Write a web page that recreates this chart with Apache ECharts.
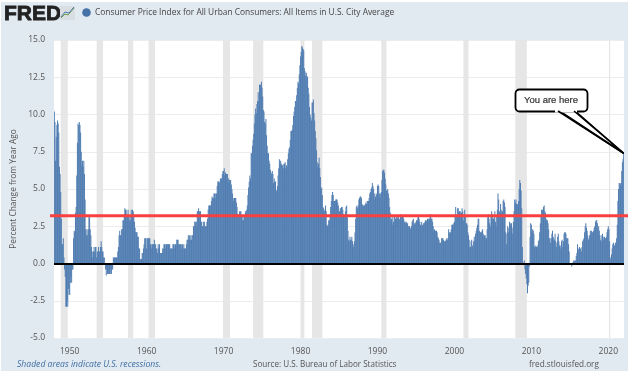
<!DOCTYPE html>
<html><head><meta charset="utf-8">
<script src="https://cdn.jsdelivr.net/npm/echarts@6/dist/echarts.min.js"></script>
<style>html,body{margin:0;padding:0;background:#fff}#c{position:absolute;left:1px;top:2px;width:627px;height:369px}</style>
</head><body><div id="c"></div>
<script>
const cpi1940s=[10.2,9.5,6.9,8.5,9.3,9.6,9.4,8.8,6.5,6.0,4.8,3.0, 1.3,1.3,1.7,0.4,-0.4,-0.9,-2.9,-2.9,-2.5,-2.9,-1.7,-2.1];
const cpi1950s=[-2.1,-1.3,-0.9,-1.3,-0.4,-0.4,1.7,2.2,2.1,3.4,3.8,5.9, 8.1,9.4,9.3,9.5,9.3,8.8,7.5,6.6,6.9,6.5,6.9,6.0, 4.3,2.3,1.9,2.3,1.9,2.3,3.1,3.1,2.3,1.9,1.1,0.8, 0.4,0.8,1.1,0.8,1.1,1.1,0.4,0.8,0.8,1.1,0.8,0.8, 1.1,1.5,1.1,0.8,0.8,0.4,0.4,0,-0.4,-0.8,-0.4,-0.7, -0.7,-0.7,-0.7,-0.4,-0.7,-0.7,-0.4,-0.4,0.4,0.4,0.4,0.4, 0.4,0.4,0.4,0.8,1.1,1.9,2.2,1.9,1.9,2.3,2.3,2.9, 2.9,3.3,3.7,3.6,3.6,3.3,3.2,3.6,3.2,2.9,3.2,2.9, 3.6,3.2,3.6,3.5,3.2,2.8,2.4,2.1,2.1,2.1,1.8,1.8, 1.0,1.0,0.3,0.3,0.3,0.7,0.7,1.0,1.3,1.7,1.7,1.7];
const cpi1960s=[1.0,1.7,1.7,1.7,1.7,1.7,1.3,1.3,1.0,1.3,1.3,1.3, 1.6,1.3,1.3,1.0,1.0,0.7,1.3,1.0,1.3,0.7,0.7,0.7, 0.7,1.0,1.0,1.3,1.3,1.3,1.0,1.3,1.3,1.3,1.3,1.3, 1.3,1.0,1.0,1.0,1.0,1.3,1.3,1.3,1.0,1.3,1.3,1.6, 1.6,1.6,1.3,1.3,1.3,1.3,1.3,1.0,1.3,1.0,1.3,1.0, 1.0,1.0,1.3,1.6,1.6,1.9,1.6,1.9,1.6,1.9,1.6,1.9, 1.9,2.5,2.5,2.8,2.8,2.5,2.8,3.5,3.5,3.7,3.5,3.5, 3.5,2.8,2.8,2.5,2.5,2.8,2.8,2.5,2.5,2.5,2.8,3.0, 3.6,3.9,3.9,3.9,3.9,4.2,4.5,4.4,4.4,4.7,4.7,4.7, 4.4,4.7,5.2,5.5,5.5,5.5,5.4,5.7,5.7,5.7,6.0,6.2];
const cpi1970s=[6.2,6.4,5.9,6.1,6.0,6.0,6.0,5.4,5.7,5.6,5.6,5.6, 5.3,5.0,4.7,4.2,4.4,4.4,4.4,4.4,4.1,3.8,3.3,3.3, 3.3,3.5,3.5,3.5,3.2,2.9,3.2,2.9,3.2,3.2,3.5,3.4, 3.6,3.9,4.6,5.1,5.5,5.9,5.7,7.4,7.4,7.9,8.3,8.7, 9.4,10.0,10.4,10.1,10.7,10.9,11.5,10.9,12.0,12.0,12.0,12.2, 11.8,11.2,10.3,10.2,9.5,9.4,9.7,8.6,7.9,7.4,7.4,6.9, 6.7,6.3,6.1,6.0,6.2,6.0,5.4,5.7,5.5,5.5,4.9,4.9, 5.2,5.9,6.4,7.0,6.7,6.9,6.7,6.6,6.6,6.4,6.7,6.7, 6.8,6.4,6.6,6.5,7.0,7.4,7.7,7.8,8.3,8.9,8.9,9.0, 9.3,9.9,10.2,10.5,10.9,10.9,11.3,11.8,12.2,12.1,12.7,13.3];
const cpi1980s=[13.9,14.2,14.6,14.5,14.4,14.3,13.1,12.9,12.6,12.8,12.6,12.5, 11.8,11.4,10.5,10.0,9.8,9.6,10.8,10.8,11.0,10.1,9.6,8.9, 8.4,7.6,6.8,6.5,6.7,7.1,6.4,5.8,5.0,5.1,4.6,3.8, 3.7,3.5,3.6,3.9,3.5,2.6,2.5,2.6,2.9,2.9,3.3,3.8, 4.2,4.6,4.8,4.6,4.2,4.2,4.2,4.3,4.3,4.3,4.1,3.9, 3.5,3.5,3.7,3.7,3.8,3.8,3.6,3.3,3.1,3.2,3.5,3.8, 3.9,3.1,2.2,1.6,1.5,1.8,1.6,1.6,1.8,1.5,1.3,1.1, 1.5,2.1,3.0,3.8,3.9,3.7,3.9,4.3,4.4,4.5,4.5,4.4, 4.0,3.9,3.9,3.9,3.9,4.0,4.1,4.0,4.2,4.2,4.2,4.4, 4.7,4.8,5.0,5.1,5.4,5.2,5.0,4.7,4.3,4.5,4.7,4.6];
const cpi1990s=[5.2,5.3,5.2,4.7,4.4,4.7,4.8,5.6,6.2,6.3,6.3,6.1, 5.7,5.3,4.9,4.9,5.0,4.7,4.4,3.8,3.4,2.9,3.0,3.1, 2.6,2.8,3.2,3.2,3.0,3.0,3.2,3.1,3.0,3.2,3.0,2.9, 3.3,3.2,3.1,3.2,3.2,3.0,2.8,2.8,2.7,2.8,2.7,2.7, 2.5,2.5,2.5,2.4,2.3,2.5,2.8,2.9,3.0,2.6,2.7,2.7, 2.8,2.9,2.9,3.1,3.2,3.0,2.8,2.6,2.5,2.8,2.6,2.5, 2.7,2.7,2.8,2.9,2.9,2.8,3.0,2.9,3.0,3.0,3.3,3.3, 3.0,3.0,2.8,2.5,2.2,2.3,2.2,2.2,2.2,2.1,1.8,1.7, 1.6,1.4,1.4,1.4,1.7,1.7,1.7,1.6,1.5,1.5,1.5,1.6, 1.7,1.6,1.7,2.3,2.1,2.0,2.1,2.3,2.6,2.6,2.6,2.7];
const cpi2000s=[2.8,3.2,3.8,3.1,3.2,3.7,3.7,3.4,3.5,3.5,3.4,3.4, 3.7,3.5,2.9,3.3,3.6,3.2,2.7,2.7,2.6,2.1,1.9,1.6, 1.1,1.1,1.5,1.6,1.2,1.1,1.5,1.8,1.5,2.0,2.2,2.4, 2.6,3.0,3.0,2.2,2.1,2.1,2.1,2.2,2.3,2.0,1.8,1.9, 1.9,1.7,1.7,2.3,3.1,3.3,3.0,2.7,2.5,3.2,3.5,3.3, 3.0,3.0,3.1,3.5,2.8,2.5,3.2,3.6,4.7,4.3,3.5,3.4, 4.0,3.6,3.4,3.5,4.2,4.3,4.1,3.8,2.1,1.3,2.0,2.5, 2.1,2.4,2.8,2.6,2.7,2.7,2.4,2.0,2.8,3.5,4.3,4.1, 4.3,4.0,4.0,3.9,4.2,5.0,5.6,5.4,4.9,3.7,1.1,0.1, 0.0,0.2,-0.4,-0.7,-1.0,-1.4,-2.0,-1.5,-1.3,-0.2,1.8,2.7];
const cpi2010s=[2.6,2.1,2.3,2.2,2.0,1.1,1.2,1.1,1.1,1.2,1.1,1.5, 1.6,2.1,2.7,3.2,3.6,3.6,3.6,3.8,3.9,3.5,3.4,3.0, 2.9,2.9,2.7,2.3,1.7,1.7,1.4,1.7,2.0,2.2,1.8,1.7, 1.6,2.0,1.5,1.1,1.4,1.8,2.0,1.5,1.2,1.0,1.2,1.5, 1.6,1.1,1.5,2.0,2.1,2.1,2.0,1.7,1.7,1.7,1.3,0.8, -0.1,0.0,-0.1,-0.2,0.0,0.1,0.2,0.2,0.0,0.2,0.5,0.7, 1.3,1.0,0.9,1.1,1.0,1.0,0.8,1.1,1.5,1.6,1.7,2.1, 2.5,2.7,2.4,2.2,1.9,1.6,1.7,1.9,2.2,2.0,2.2,2.1, 2.1,2.2,2.4,2.5,2.8,2.9,2.9,2.7,2.3,2.5,2.2,1.9, 1.6,1.5,1.9,2.0,1.8,1.6,1.8,1.7,1.7,1.8,2.1,2.3];
const cpi2020s=[2.5,2.3,1.5,0.4,0.2,0.6,1.0,1.3,1.4,1.2,1.2,1.4, 1.4,1.7,2.6,4.2,5.0,5.4,5.4,5.3,5.4,6.2,6.8,7.0, 7.4];
const recessionStarts=['1948-11','1953-07','1957-08','1960-04','1969-12','1973-11','1980-01','1981-07','1990-07','2001-03','2007-12','2020-02'];
const recessionEnds=['1949-10','1954-05','1958-04','1961-02','1970-11','1975-03','1980-07','1982-11','1991-03','2001-11','2009-06','2020-04'];
const referenceLevel=3.2;
const calloutValue=7.4;
const title='Consumer Price Index for All Urban Consumers: All Items in U.S. City Average';

const values=[].concat(cpi1940s,cpi1950s,cpi1960s,cpi1970s,cpi1980s,cpi1990s,cpi2000s,cpi2010s,cpi2020s);
const months=values.map((_,i)=>{const y=1948+Math.floor(i/12),m=i%12+1;return y+'-'+String(m).padStart(2,'0');});
const chart=echarts.init(document.getElementById('c'),null,{renderer:'canvas'});
const font='"Open Sans","Noto Sans",sans-serif';
chart.setOption({
  animation:false,
  backgroundColor:'#e1e9f1',
  grid:{left:53,top:38,width:570,height:298,show:true,backgroundColor:'#fff',borderWidth:0,outerBoundsMode:'none',containLabel:false},
  xAxis:{type:'category',data:months,
    axisLine:{show:false},axisTick:{show:false},splitLine:{show:false},
    axisLabel:{interval:(i,v)=>v.endsWith('-01')&&+v.slice(0,4)%10===0,formatter:v=>v.slice(0,4),color:'#555',fontSize:8.5,fontFamily:font,margin:9,hideOverlap:false}},
  yAxis:{type:'value',min:-5,max:15,interval:2.5,
    name:'Percent Change from Year Ago',nameLocation:'middle',nameGap:35,nameTextStyle:{color:'#555',fontSize:8.4,fontFamily:font},
    axisLine:{show:false},axisTick:{show:false},
    splitLine:{lineStyle:{color:'#ececec',width:1}},
    axisLabel:{formatter:v=>v.toFixed(1),color:'#555',fontSize:8.5,fontFamily:font,margin:9,padding:[2,0,0,0]}},
  series:[
  {type:'custom',z:1,silent:true,clip:true,
    data:recessionStarts.map((s,i)=>[months.indexOf(s),months.indexOf(recessionEnds[i])]),
    encode:{x:0},
    renderItem(params,api){
      const i=params.dataIndex;
      const a=api.coord([months.indexOf(recessionStarts[i]),15]);
      const b=api.coord([months.indexOf(recessionEnds[i]),-5]);
      return {type:'rect',shape:{x:a[0],y:a[1],width:b[0]-a[0],height:b[1]-a[1]},style:{fill:'#e6e6e6'}};
    }},
  {type:'bar',z:3,data:values,barWidth:'100%',barGap:0,
    itemStyle:{color:'#4f7cb1'},
    markLine:{silent:true,symbol:'none',label:{show:false},lineStyle:{color:'#000',width:2,type:'solid'},data:[{yAxis:0}]}
  }]
});
const yRef=chart.convertToPixel({yAxisIndex:0},referenceLevel)+2;
const tip=chart.convertToPixel({xAxisIndex:0,yAxisIndex:0},[months.length-1,calloutValue]);
const tipX=tip[0]+1, tipY=tip[1]+2;
const overlay=[
  {type:'line',shape:{x1:50,y1:yRef,x2:630,y2:yRef},style:{stroke:'#f7403f',lineWidth:3}},
  {type:'text',x:4,y:4,style:{text:'FRED',font:'900 21px "Liberation Sans",sans-serif',fill:'#222',stroke:'#222',lineWidth:.8}},
  {type:'rect',shape:{x:60,y:6,width:15,height:14},style:{fill:'#d9dee3'}},
  {type:'polyline',shape:{points:[[61,18],[65,14],[68,15],[74,8]]},style:{stroke:'#6d9c45',lineWidth:1,fill:null}},
  {type:'polyline',shape:{points:[[61,17],[65,12],[69,13],[74,7]]},style:{stroke:'#4a77ad',lineWidth:1,fill:null}},
  {type:'circle',shape:{cx:86.5,cy:12.5,r:4.3},style:{fill:'#4572a7'}},
  {type:'text',x:95,y:13,style:{text:title,font:'8.4px '+font,fill:'#444',verticalAlign:'middle'}},
  {type:'text',x:17,y:365,style:{text:'Shaded areas indicate U.S. recessions.',font:'italic 8.6px '+font,fill:'#3f6fa3',verticalAlign:'middle'}},
  {type:'text',x:253,y:365,style:{text:'Source: U.S. Bureau of Labor Statistics',font:'8.1px '+font,fill:'#555',verticalAlign:'middle'}},
  {type:'text',x:529,y:365,style:{text:'fred.stlouisfed.org',font:'8.2px '+font,fill:'#555',verticalAlign:'middle'}},
  {type:'polygon',shape:{points:[[558,110],[tipX,tipY],[574,110]]},style:{fill:'#fff',stroke:'#000',lineWidth:1.6}},
  {type:'rect',shape:{x:515.5,y:89.5,width:72,height:22,r:4},style:{fill:'#fff',stroke:'#000',lineWidth:1.8}},
  {type:'rect',shape:{x:555,y:109,width:22,height:3.5},style:{fill:'#fff'}},
  {type:'polyline',shape:{points:[[558,111],[tipX,tipY]]},style:{stroke:'#000',lineWidth:1.6}},
  {type:'polyline',shape:{points:[[574,111],[tipX,tipY]]},style:{stroke:'#000',lineWidth:1.6}},
  {type:'text',x:551,y:100.5,style:{text:'You are here',font:'9.5px "Liberation Sans",sans-serif',fill:'#333',align:'center',verticalAlign:'middle',stroke:'#333',lineWidth:.2}}
];
chart.setOption({graphic:{elements:[{type:'group',x:-1,y:-2,children:overlay.map(o=>Object.assign({z:100},o))}]}});
</script></body></html>
